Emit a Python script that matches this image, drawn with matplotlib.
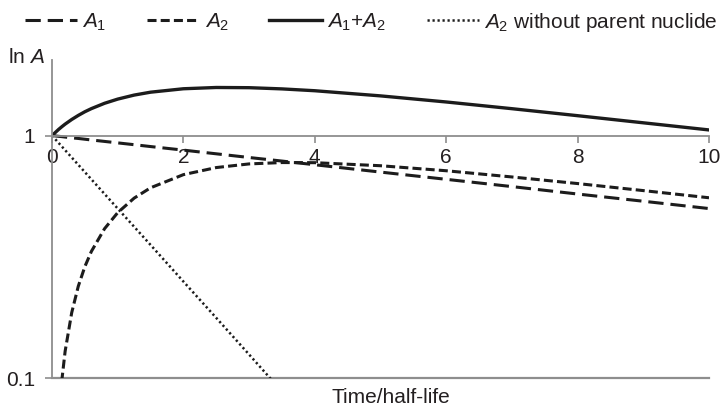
import matplotlib
matplotlib.use("Agg")
import matplotlib.pyplot as plt

plt.rcParams['font.family'] = ['Liberation Sans', 'DejaVu Sans']
plt.rcParams['mathtext.fontset'] = 'custom'
plt.rcParams['mathtext.rm'] = 'Liberation Sans'
plt.rcParams['mathtext.it'] = 'Liberation Sans:italic'
plt.rcParams['lines.scale_dashes'] = False
plt.rcParams['font.size'] = 15

# values (time in half-lives, activity on log scale)
t = [0, 0.1, 0.15, 0.2, 0.3, 0.4, 0.5, 0.6, 0.8, 1.0, 1.25, 1.5, 2, 2.5, 3, 3.5, 4, 5, 6, 7, 8, 9, 10]
a1 = [1.0, 0.993, 0.990, 0.986, 0.979, 0.973, 0.966, 0.959, 0.946, 0.933, 0.917, 0.901, 0.871, 0.841,
      0.812, 0.785, 0.758, 0.707, 0.660, 0.616, 0.574, 0.536, 0.500]
a_sum = [1.0, 1.060, 1.088, 1.115, 1.165, 1.211, 1.254, 1.292, 1.359, 1.414, 1.469, 1.510, 1.560, 1.579,
         1.576, 1.558, 1.531, 1.458, 1.376, 1.291, 1.208, 1.129, 1.055]

t2 = [0.1, 0.15, 0.2, 0.3, 0.4, 0.5, 0.6, 0.8, 1.0, 1.25, 1.5, 2, 2.5, 3, 3.5, 4, 5, 6, 7, 8, 9, 10]
a2 = [0.067, 0.098, 0.129, 0.186, 0.239, 0.288, 0.333, 0.413, 0.481, 0.552, 0.609, 0.690, 0.738,
      0.764, 0.774, 0.773, 0.751, 0.716, 0.675, 0.634, 0.593, 0.554]

t_free = [0, 0.5, 1.0, 1.5, 2, 2.5, 3, 3.5]
a2_free = [1.0, 0.707, 0.5, 0.354, 0.25, 0.177, 0.125, 0.088]

line_col = '#1c1c1c'
axis_col = '#8e8e8e'
text_col = '#231f20'

fig = plt.figure(figsize=(7.22, 4.07), dpi=100)
ax = fig.add_axes([52/722, (407-378)/407, (709-52)/722, (378-60)/407])

ax.plot(t, a1, color=line_col, lw=2.2, dashes=(11, 5), label='$A_1$')
ax.plot(t2, a2, color=line_col, lw=2.2, dashes=(6.5, 3), label='$A_2$')
ax.plot(t, a_sum, color=line_col, lw=2.4, label='$A_1$+$A_2$')
ax.plot(t_free, a2_free, color=line_col, lw=1.8, dashes=(1.6, 2.0), label='$A_2$ without parent nuclide')

ax.set_yscale('log')
ax.set_xlim(0, 10)
ax.set_ylim(0.1, 2.05)
ax.set_yticks([0.1, 1])
ax.set_yticklabels(['0.1', '1'])
ax.minorticks_off()
ax.set_xticks([0, 2, 4, 6, 8, 10])
ax.set_xticklabels(['0', '2', '4', '6', '8', '10'])

for s in ['top', 'right']:
    ax.spines[s].set_visible(False)
ax.spines['left'].set_color(axis_col)
ax.spines['left'].set_linewidth(1.3)
ax.spines['bottom'].set_color(axis_col)
ax.spines['bottom'].set_linewidth(1.3)
ax.spines['bottom'].set_position(('data', 1))
ax.axhline(0.1, color=axis_col, lw=1.6, clip_on=False, zorder=1)

ax.tick_params(axis='x', direction='out', length=5, width=1.2, color=axis_col,
               labelcolor=text_col, pad=4, labelsize=15)
ax.tick_params(axis='y', direction='out', length=5, width=1.2, color=axis_col,
               labelcolor=text_col, pad=7, labelsize=15)

fig.text(8/722, 1 - 63/407, 'ln $A$', va='baseline', ha='left', color=text_col, fontsize=15)
fig.text(391/722, 1 - 403/407, 'Time/half-life', va='baseline', ha='center', color=text_col, fontsize=15)

fig.legend(loc='center left', bbox_to_anchor=(25/722, 1 - 22/407), ncol=4, frameon=False,
           borderpad=0, borderaxespad=0, handlelength=2.5, handletextpad=0.25,
           columnspacing=1.95, fontsize=15, labelcolor=text_col)

fig.savefig('out.png', dpi=100)
